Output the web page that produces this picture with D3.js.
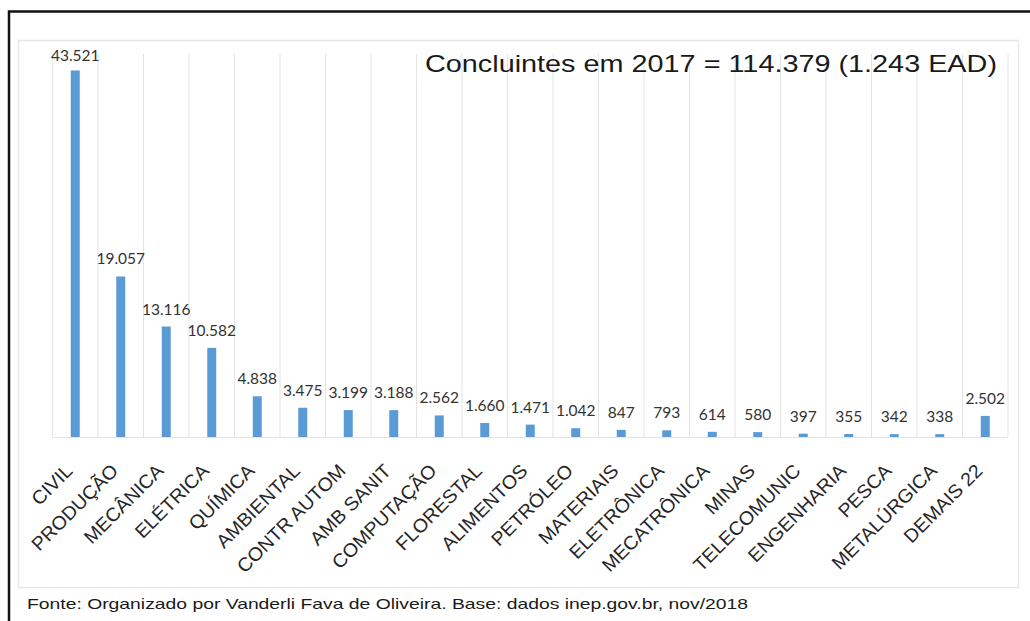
<!DOCTYPE html>
<html>
<head>
<meta charset="utf-8">
<script src="https://cdn.jsdelivr.net/npm/d3@7"></script>
<style>
  html, body { margin: 0; padding: 0; background: #fff; }
  svg { display: block; }
</style>
</head>
<body>
<svg id="chart" width="1030" height="621"></svg>
<script>
// Engineering graduates by course, 2017
const categories = ["CIVIL", "PRODUÇÃO", "MECÂNICA", "ELÉTRICA", "QUÍMICA", "AMBIENTAL",
  "CONTR AUTOM", "AMB SANIT", "COMPUTAÇÃO", "FLORESTAL", "ALIMENTOS", "PETRÓLEO",
  "MATERIAIS", "ELETRÔNICA", "MECATRÔNICA", "MINAS", "TELECOMUNIC", "ENGENHARIA",
  "PESCA", "METALÚRGICA", "DEMAIS 22"];
const values = [43521, 19057, 13116, 10582, 4838, 3475, 3199, 3188, 2562, 1660, 1471,
  1042, 847, 793, 614, 580, 397, 355, 342, 338, 2502];
const valueLabels = ["43.521", "19.057", "13.116", "10.582", "4.838", "3.475", "3.199",
  "3.188", "2.562", "1.660", "1.471", "1.042", "847", "793", "614", "580", "397", "355",
  "342", "338", "2.502"];
const titleText = "Concluintes em 2017 = 114.379 (1.243 EAD)";
const sourceText = "Fonte: Organizado por Vanderli Fava de Oliveira. Base: dados inep.gov.br, nov/2018";

const svg = d3.select("#chart");

// frame: thick rule on top and left, soft panel inside
svg.append("path")
  .attr("d", "M9,621 V11.5 H1030")
  .attr("fill", "none").attr("stroke", "#111").attr("stroke-width", 2.5);
svg.append("rect")
  .attr("x", 18.5).attr("y", 40.5).attr("width", 1000).attr("height", 547)
  .attr("fill", "#fff").attr("stroke", "#e8e8e8").attr("stroke-width", 1.5);

const plotTop = 54, baseY = 437;
const x = d3.scaleBand().domain(categories).range([52.5, 1008]).paddingInner(0).paddingOuter(0);
const y = d3.scaleLinear().domain([0, 45000]).range([baseY, 58]);

// vertical gridlines between categories
const bounds = categories.map(c => x(c)).concat([x.range()[1]]);
svg.append("g").selectAll("line").data(bounds).join("line")
  .attr("x1", d => d).attr("x2", d => d)
  .attr("y1", plotTop).attr("y2", baseY)
  .attr("stroke", "#e3e3e3").attr("stroke-width", 1);

// baseline
svg.append("line")
  .attr("x1", x.range()[0]).attr("x2", x.range()[1])
  .attr("y1", baseY + 0.5).attr("y2", baseY + 0.5)
  .attr("stroke", "#e3e3e3").attr("stroke-width", 1);

const barW = 9;
const cx = c => x(c) + x.bandwidth() / 2;

svg.append("g").selectAll("rect").data(categories).join("rect")
  .attr("x", (c) => cx(c) - barW / 2)
  .attr("y", (c, i) => y(values[i]))
  .attr("width", barW)
  .attr("height", (c, i) => baseY - y(values[i]))
  .attr("fill", "#5b9bd5");

// value labels above bars
svg.append("g").selectAll("text").data(categories).join("text")
  .attr("x", c => cx(c))
  .attr("y", (c, i) => Math.max(y(values[i]) - 12, 61))
  .attr("text-anchor", "middle")
  .attr("font-family", "Lato, 'Open Sans', sans-serif")
  .attr("font-size", 15.5)
  .attr("fill", "#333")
  .text((c, i) => valueLabels[i]);

// category labels, rotated
svg.append("g").selectAll("text").data(categories).join("text")
  .attr("transform", c => `translate(${cx(c) - 1.5},${472}) rotate(-45) scale(1.03,1)`)
  .attr("text-anchor", "end")
  .attr("font-family", "'Liberation Sans', Arial, sans-serif")
  .attr("font-size", 19)
  .attr("fill", "#262626")
  .text(c => c);

// title
svg.append("text")
  .attr("x", 997).attr("y", 72)
  .attr("text-anchor", "end")
  .attr("font-family", "'Liberation Sans', Arial, sans-serif")
  .attr("font-size", 24)
  .attr("fill", "#1a1a1a")
  .attr("textLength", 572).attr("lengthAdjust", "spacingAndGlyphs")
  .text(titleText);

// source note
svg.append("text")
  .attr("x", 27).attr("y", 609)
  .attr("font-family", "'Liberation Sans', Arial, sans-serif")
  .attr("font-size", 14.5)
  .attr("fill", "#1a1a1a")
  .attr("textLength", 721).attr("lengthAdjust", "spacingAndGlyphs")
  .text(sourceText);
</script>
</body>
</html>
